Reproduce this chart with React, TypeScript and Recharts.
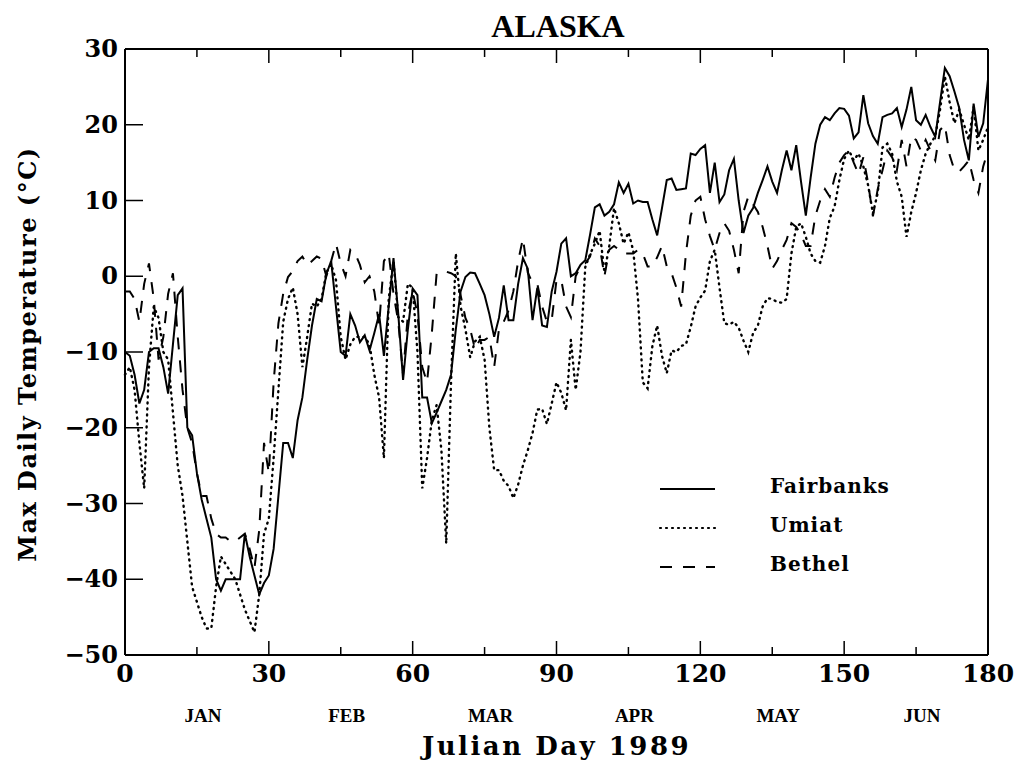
import React from 'react'
import { LineChart, Line, XAxis, YAxis, Legend } from 'recharts'

// Julian day 0..180 (categories)
const days: number[] = Array.from({ length: 181 }, (_, i) => i)

const fairbanks: number[] = [
  -10, -10.5, -13, -16.8, -15, -10, -9.5, -9.5, -12, -15.5,
  -9, -2.5, -1.6, -20, -21, -26, -29.5, -32, -34.5, -40,
  -41.5, -40, -40, -40, -40, -34, -37, -39.5, -42, -40.5,
  -39.5, -36, -29, -22, -22, -24, -19, -16, -11, -6.5,
  -3, -3.3, 0.3, 2, -4, -10, -10.5, -5, -6.5, -8.7,
  -7.8, -9.8, -7.5, -5, -10.5, -4, 2.4, -5, -13.7, -7,
  -1.6, -2.5, -16, -16, -19.4, -18, -16.5, -15, -13, -7,
  -2, -0.1, 0.5, 0.4, -1, -2.5, -5, -8, -5.5, -1.2,
  -5.8, -5.8, -1, 2.4, 1, -5.8, -1.5, -6.5, -6.7, -2,
  0.6, 4.3, 5, 0, 0.4, 1.5, 2.1, 5.5, 9.1, 9.5,
  8, 8.5, 9.5, 12.4, 11, 12.2, 9.6, 10, 9.8, 9.8,
  7.5, 5.4, 9, 12.7, 12.9, 11.4, 11.5, 11.6, 16.2, 16,
  16.8, 17.3, 11, 15, 9.8, 10.8, 14, 15.5, 10, 5.7,
  8, 9, 11, 12.7, 14.5, 12.5, 11, 14, 16.6, 14,
  17.3, 12.5, 8, 13, 17.5, 20, 21, 20.6, 21.5, 22.2,
  22.1, 21.2, 18.2, 19, 23.9, 20.2, 18.5, 17.5, 21, 21.3,
  21.5, 22.2, 19.7, 22, 25, 20.6, 20, 21.3, 19.7, 18.4,
  23, 27.5, 26.4, 24.4, 22.2, 18, 15.3, 22.8, 18.4, 20.2,
  26,
]

const umiat: number[] = [
  -13, -12, -15, -22, -28, -12, -4, -5.5, -10, -11,
  -18, -25, -29, -35, -41, -43, -45, -46.5, -46.5, -41,
  -37, -38, -39, -40, -42, -44, -45.5, -47, -42, -34,
  -32, -24, -15, -6, -3, -1.5, -5, -12, -8, -3.6,
  -4, -3, 0.5, 1.6, -0.5, -8, -11, -9, -8, -8,
  -8, -9, -13, -16, -24, -3, 2, -5.4, -6, -1,
  -1.5, -10, -28, -24, -19, -17, -23, -35.3, -14, 3,
  -4, -7, -10.7, -8.6, -8, -11, -20, -25.6, -25.6, -27,
  -27.7, -29.3, -27.5, -25, -23, -20.7, -17.6, -17.5, -19.5, -16.8,
  -14, -15.4, -17.7, -8.4, -15, -10, 1.2, 2.9, 4.3, 6,
  0.5, 4, 9, 7, 4.3, 5.8, 3.4, -3, -14, -14.8,
  -9.2, -6.5, -10.5, -12.8, -9.8, -10, -9.2, -9, -6.7, -4,
  -2.8, -1.9, 2, 3.5, -1.5, -6.2, -6.4, -6, -6.8, -8.5,
  -10, -7.5, -6.5, -4, -2.9, -3, -3.4, -3.5, -3, 3,
  6.5, 7, 5.2, 3, 2, 1.8, 4, 7.7, 9.2, 12.7,
  15.5, 16.6, 15.3, 16.2, 14.5, 12, 8.3, 11, 17, 17.5,
  16.2, 12.5, 10.5, 5.2, 8.5, 11, 14, 16.2, 17.5, 18.5,
  22, 26.4, 23, 20.2, 22, 20, 18, 22.4, 16.6, 18,
  19.7,
]

const bethel: number[] = [
  -2, -2, -3, -6, -1, 1.7, -3, -11, -8, -2.3,
  0.4, -8, -15, -20, -22, -26, -29, -29, -32, -34,
  -34.5, -34.5, -35, -35, -34.5, -34, -36, -38.5, -33.5, -22,
  -26, -14, -6.2, -2.3, -0.1, 0.7, 2, 2.6, 1.5, 2,
  2.6, 2.3, 0, 2, 4.3, 1.7, 0, 3.5, 3, 1.5,
  -0.8, 0, -2, -6.5, 2, 3, -2.3, -6, -13, -5,
  -2, -5, -12, -14, -7.5, 0.4, 0.5, 0.6, 0.4, 0,
  -2.5, -5.5, -7, -9.6, -8.4, -8.4, -8, -12, -7, -6,
  -4.5, -2, 2, 5, 0.5, -0.9, -1, -4, -6, -5.8,
  -0.5, -0.5, -4, -5.4, 0, 1.3, 1.7, 2.6, 5, 4,
  0, 3.5, 4, 3.5, 3, 3, 3, 3.5, 3, 1.3,
  1.3, 2.5, 4, 1.3, 0.4, -1.5, -4, 3, 8, 10,
  10.5, 7.5, 5.3, 3.5, 5.7, 7, 6, 3.5, 0.4, 8.5,
  10.5, 9.5, 8.5, 6.5, 4, 1, 2, 3.5, 4.8, 7,
  6.5, 5.5, 4, 4, 8, 10, 11.5, 10.5, 13, 15,
  16, 16.6, 15, 13.5, 15.7, 12.3, 7.9, 11.5, 14, 16.6,
  15.7, 14, 18, 14.5, 18.4, 18, 16.6, 18, 16.6, 15.3,
  19.3, 20, 16, 14, 13.8, 14.5, 15.3, 12.7, 11, 14.5,
  16.6,
]

const xTicks = [0, 15, 30, 45, 60, 75, 90, 105, 120, 135, 150, 165, 180]
const monthLabels: Record<number, string> = {
  15: 'JAN', 45: 'FEB', 75: 'MAR', 105: 'APR', 135: 'MAY', 165: 'JUN',
}
const yTicks = [-50, -40, -30, -20, -10, 0, 10, 20, 30]

const data = days.map((d, i) => ({
  day: d,
  fairbanks: fairbanks[i],
  umiat: umiat[i],
  bethel: bethel[i],
}))

const serif = '"DejaVu Serif", serif'
const condensed = '"Liberation Serif", serif'

const BottomTick = ({ x, y, payload }: any) => {
  const v = payload.value
  const major = v % 30 === 0
  return (
    <g>
      <line x1={x} y1={y} x2={x} y2={y - (major ? 14 : 8)} stroke="#000" strokeWidth={1.5} />
      {major ? (
        <text x={x} y={y + 27} textAnchor="middle" fontFamily={serif} fontWeight="bold" fontSize={25} fill="#000">
          {v}
        </text>
      ) : (
        <text x={x + 6} y={y + 67} textAnchor="middle" fontFamily={condensed} fontWeight="bold" fontSize={19} fill="#000">
          {monthLabels[v]}
        </text>
      )}
    </g>
  )
}

const TopTick = ({ x, y, payload }: any) => {
  const major = payload.value % 30 === 0
  return <line x1={x} y1={y} x2={x} y2={y + (major ? 14 : 8)} stroke="#000" strokeWidth={1.5} />
}

const LeftTick = ({ x, y, payload }: any) => {
  const v = payload.value
  return (
    <g>
      <line x1={x} y1={y} x2={x + 18} y2={y} stroke="#000" strokeWidth={1.5} />
      <text x={x - 7} y={y + 8} textAnchor="end" fontFamily={serif} fontWeight="bold" fontSize={24} fill="#000">
        {v < 0 ? `\u2212${-v}` : v}
      </text>
    </g>
  )
}

const RightTick = ({ x, y }: any) => (
  <line x1={x} y1={y} x2={x - 18} y2={y} stroke="#000" strokeWidth={1.5} />
)

const legendItems = [
  { name: 'Fairbanks', dash: undefined as string | undefined, cap: 'butt' },
  { name: 'Umiat', dash: '1 5', cap: 'round' },
  { name: 'Bethel', dash: '12 11', cap: 'butt' },
]

const LegendBox = () => (
  <svg width={260} height={110}>
    {legendItems.map((it, i) => (
      <g key={it.name}>
        <line
          x1={5}
          x2={60}
          y1={19 + i * 39}
          y2={19 + i * 39}
          stroke="#000"
          strokeWidth={it.dash ? 2.2 : 2}
          strokeDasharray={it.dash}
          strokeLinecap={it.cap as any}
        />
        <text
          x={115}
          y={19 + i * 39 + 4}
          fontFamily={serif}
          fontWeight="bold"
          fontSize={20}
          letterSpacing={1}
          fill="#000"
        >
          {it.name}
        </text>
      </g>
    ))}
  </svg>
)

export default function App() {
  return (
    <div style={{ position: 'absolute', left: 0, top: 0, width: 1016, height: 764, background: '#fff' }}>
      <div
        style={{
          position: 'absolute', left: 0, width: 1016, top: 8, textAlign: 'center',
          paddingLeft: 100, boxSizing: 'border-box',
          fontFamily: condensed, fontWeight: 'bold', fontSize: 32, lineHeight: '36px',
        }}
      >
        ALASKA
      </div>
      <div
        style={{
          position: 'absolute', left: 125, width: 863, top: 731, textAlign: 'center',
          fontFamily: serif, fontWeight: 'bold', fontSize: 26, letterSpacing: 2.5, lineHeight: '30px',
        }}
      >
        Julian Day 1989
      </div>
      <div
        style={{
          position: 'absolute', left: 28 - 250, top: 354 - 15, width: 500, height: 30,
          transform: 'rotate(-90deg)', textAlign: 'center',
          fontFamily: serif, fontWeight: 'bold', fontSize: 24, letterSpacing: 1.5, lineHeight: '30px',
        }}
      >
        Max Daily Temperature (°C)
      </div>
      <LineChart
        width={1016}
        height={764}
        data={data}
        margin={{ top: 39, right: 18, bottom: 9, left: 25 }}
      >
        <XAxis
          dataKey="day"
          type="number"
          domain={[0, 180]}
          ticks={xTicks}
          interval={0}
          height={100}
          tickSize={0}
          tickMargin={0}
          tickLine={false}
          axisLine={{ stroke: '#000', strokeWidth: 2 }}
          tick={<BottomTick />}
        />
        <XAxis
          xAxisId="top"
          orientation="top"
          dataKey="day"
          type="number"
          domain={[0, 180]}
          ticks={xTicks}
          interval={0}
          height={10}
          tickSize={0}
          tickMargin={0}
          tickLine={false}
          axisLine={{ stroke: '#000', strokeWidth: 2 }}
          tick={<TopTick />}
        />
        <YAxis
          type="number"
          domain={[-50, 30]}
          ticks={yTicks}
          interval={0}
          width={100}
          tickSize={0}
          tickMargin={0}
          tickLine={false}
          allowDataOverflow
          axisLine={{ stroke: '#000', strokeWidth: 2 }}
          tick={<LeftTick />}
        />
        <YAxis
          yAxisId="right"
          orientation="right"
          type="number"
          domain={[-50, 30]}
          ticks={yTicks}
          interval={0}
          width={10}
          tickSize={0}
          tickMargin={0}
          tickLine={false}
          axisLine={{ stroke: '#000', strokeWidth: 2 }}
          tick={<RightTick />}
        />
        <Legend
          layout="vertical"
          align="center"
          verticalAlign="middle"
          content={<LegendBox />}
          wrapperStyle={{ left: 655, top: 470, width: 260 }}
        />
        <Line
          dataKey="fairbanks"
          name="Fairbanks"
          stroke="#000"
          strokeWidth={2}
          dot={false}
          type="linear"
          isAnimationActive={false}
        />
        <Line
          dataKey="umiat"
          name="Umiat"
          stroke="#000"
          strokeWidth={2.4}
          strokeDasharray="1 5"
          strokeLinecap="round"
          dot={false}
          type="linear"
          isAnimationActive={false}
        />
        <Line
          dataKey="bethel"
          name="Bethel"
          stroke="#000"
          strokeWidth={2}
          strokeDasharray="12 11"
          dot={false}
          type="linear"
          isAnimationActive={false}
        />
      </LineChart>
    </div>
  )
}
